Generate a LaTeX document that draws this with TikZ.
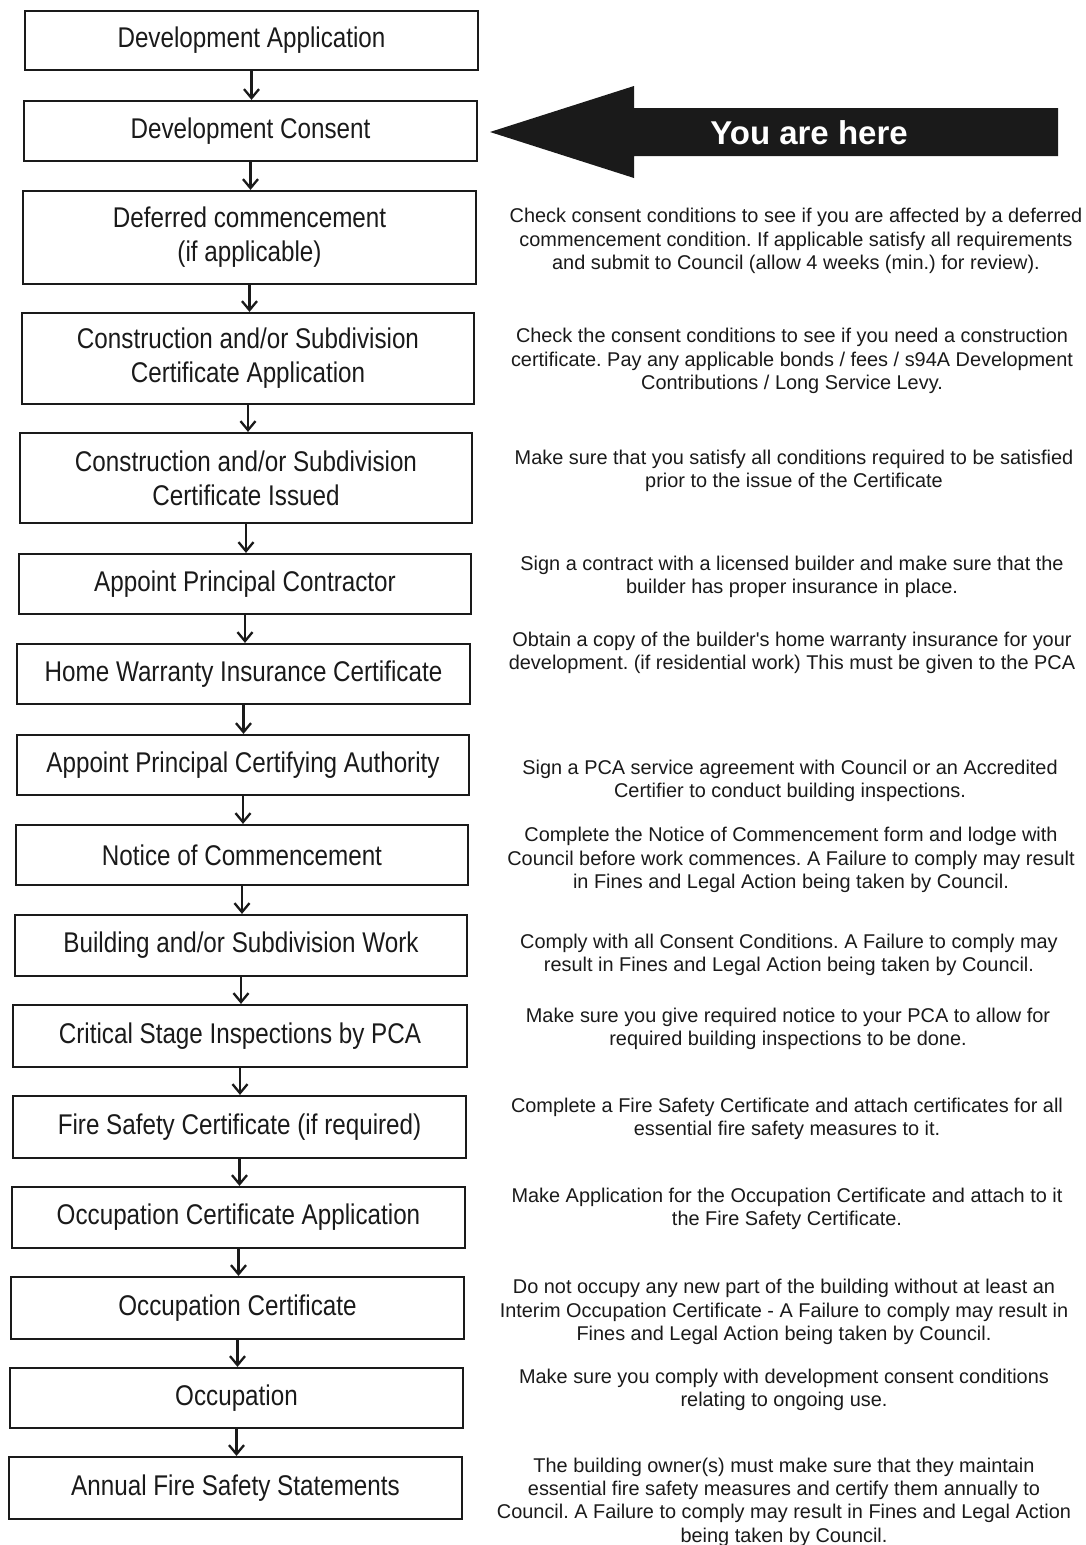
\documentclass[tikz,border=0pt]{standalone}
\usepackage{fontspec}
\setmainfont{Liberation Sans}
\newfontfamily\narrowfont[FakeStretch=0.85]{Liberation Sans}
\usetikzlibrary{arrows.meta}
\definecolor{ink}{HTML}{1A1A1A}
\frenchspacing
\newcommand\stepnode[6]{\node[stepbox, minimum width={#4-#2}, minimum height={#5-#3}] (#1) at ({(#2+#4)/2},{(#3+#5)/2}) {#6};}
\begin{document}
\begin{tikzpicture}[x=1pt,y=-1pt,
  stepbox/.style={draw=ink, line width=2.2pt, rectangle, inner sep=0pt, text=ink,
    font=\narrowfont\fontsize{28.5}{34}\selectfont, align=center},
  note/.style={font=\fontsize{19.9}{23.3}\selectfont, align=center, inner sep=0pt, text=ink},
  flow/.style={draw=ink, line width=2.3pt, -{Straight Barb[length=9pt,width=15pt,line width=2.3pt]}}]
\fill[white] (0,0) rectangle (1085,1545);
\useasboundingbox (0,0) rectangle (1085,1545);

\stepnode{da}{25}{11}{478}{70}{Development Application}
\stepnode{dc}{24}{101}{477}{161}{Development Consent}
\stepnode{dfc}{23}{191}{476}{284}{Deferred commencement\\(if applicable)}
\stepnode{cca}{22}{313}{474}{404}{Construction and/or Subdivision\\Certificate Application}
\stepnode{cci}{20}{433}{472}{523}{Construction and/or Subdivision\\Certificate Issued}
\stepnode{apc}{19}{554}{471}{614}{Appoint Principal Contractor}
\stepnode{hwi}{17}{644}{470}{704}{Home Warranty Insurance Certificate}
\stepnode{pca}{17}{735}{469}{795}{Appoint Principal Certifying Authority}
\stepnode{noc}{16}{825}{468}{885}{Notice of Commencement}
\stepnode{bsw}{15}{915}{467}{976}{Building and/or Subdivision Work}
\stepnode{csi}{13}{1005}{467}{1067}{Critical Stage Inspections by PCA}
\stepnode{fsc}{13}{1096}{466}{1158}{Fire Safety Certificate (if required)}
\stepnode{oca}{12}{1187}{465}{1248}{Occupation Certificate Application}
\stepnode{occ}{11}{1277}{464}{1339}{Occupation Certificate}
\stepnode{ocp}{10}{1368}{463}{1428}{Occupation}
\stepnode{afs}{9}{1457}{462}{1519}{Annual Fire Safety Statements}

\foreach \a/\b in {da/dc,dc/dfc,dfc/cca,cca/cci,cci/apc,apc/hwi,hwi/pca,pca/noc,noc/bsw,bsw/csi,csi/fsc,fsc/oca,oca/occ,occ/ocp,ocp/afs}
  \draw[flow] (\a.south) -- (\a.south |- \b.north);

% You are here arrow
\fill[ink] (490,132) -- (634,86) -- (634,108) -- (1058,108) -- (1058,156) -- (634,156) -- (634,178) -- cycle;
\node[font=\bfseries\fontsize{33}{36}\selectfont, text=white, inner sep=0pt] (here) at (809,133) {You are here};

\node[note] (n1) at (796,241) {Check consent conditions to see if you are affected by a deferred\\commencement condition. If applicable satisfy all requirements\\and submit to Council (allow 4 weeks (min.) for review).};
\node[note] (n2) at (792,361) {Check the consent conditions to see if you need a construction\\certificate. Pay any applicable bonds / fees / s94A Development\\Contributions / Long Service Levy.};
\node[note] (n3) at (794,471) {Make sure that you satisfy all conditions required to be satisfied\\prior to the issue of the Certificate};
\node[note] (n4) at (792,577) {Sign a contract with a licensed builder and make sure that the\\builder has proper insurance in place.};
\node[note] (n5) at (792,653) {Obtain a copy of the builder\textquotesingle s home warranty insurance for your\\development. (if residential work) This must be given to the PCA};
\node[note] (n6) at (790,781) {Sign a PCA service agreement with Council or an Accredited\\Certifier to conduct building inspections.};
\node[note] (n7) at (791,860) {Complete the Notice of Commencement form and lodge with\\Council before work commences. A Failure to comply may result\\in Fines and Legal Action being taken by Council.};
\node[note] (n8) at (789,955) {Comply with all Consent Conditions. A Failure to comply may\\result in Fines and Legal Action being taken by Council.};
\node[note] (n9) at (788,1029) {Make sure you give required notice to your PCA to allow for\\required building inspections to be done.};
\node[note] (n10) at (787,1119) {Complete a Fire Safety Certificate and attach certificates for all\\essential fire safety measures to it.};
\node[note] (n11) at (787,1209) {Make Application for the Occupation Certificate and attach to it\\the Fire Safety Certificate.};
\node[note] (n12) at (784,1312) {Do not occupy any new part of the building without at least an\\Interim Occupation Certificate - A Failure to comply may result in\\Fines and Legal Action being taken by Council.};
\node[note] (n13) at (784,1390) {Make sure you comply with development consent conditions\\relating to ongoing use.};
\node[note] (n14) at (784,1502) {The building owner(s) must make sure that they maintain\\essential fire safety measures and certify them annually to\\Council. A Failure to comply may result in Fines and Legal Action\\being taken by Council.};
\end{tikzpicture}
\end{document}
